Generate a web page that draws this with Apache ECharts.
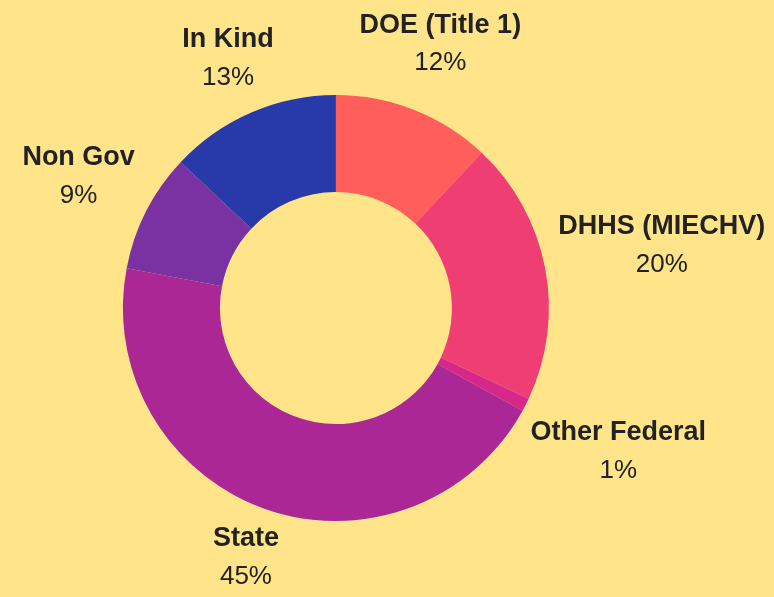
<!DOCTYPE html>
<html>
<head>
<meta charset="utf-8">
<script src="https://cdn.jsdelivr.net/npm/echarts@6/dist/echarts.min.js"></script>
<style>
  html, body { margin: 0; padding: 0; background: #FFE48A; }
  #main { width: 774px; height: 597px; }
</style>
</head>
<body>
<div id="main"></div>
<script>
// funding sources, percent of total
var names = ['DOE (Title 1)', 'DHHS (MIECHV)', 'Other Federal', 'State', 'Non Gov', 'In Kind'];
var values = [12, 20, 1, 45, 9, 13];
var colors = ['#FF5E5B', '#EE3E74', '#D6288A', '#AB2795', '#7A32A2', '#283AA9'];

var total = values.reduce(function (a, b) { return a + b; }, 0);
var chart = echarts.init(document.getElementById('main'));

var centerPct = [0.434, 0.516];
var labelGap = 224; // label box sits on the ray through the slice middle, this far out

var data = names.map(function (n, i) {
  return { name: n, value: values[i], itemStyle: { color: colors[i] } };
});

chart.setOption({
  backgroundColor: '#FFE48A',
  animation: false,
  series: [{
    type: 'pie',
    center: [centerPct[0] * 100 + '%', centerPct[1] * 100 + '%'],
    radius: [116, 213],
    startAngle: 90,
    clockwise: true,
    avoidLabelOverlap: false,
    data: data,
    itemStyle: { borderWidth: 0 },
    labelLine: { show: false },
    label: {
      show: true,
      position: 'outside',
      overflow: 'none',
      formatter: function (p) {
        return '{n|' + p.name + '}\n{p|' + p.value + '%}';
      },
      rich: {
        n: { fontFamily: 'Liberation Sans', fontWeight: 'bold', fontSize: 27, color: '#222', lineHeight: 38, align: 'center' },
        p: { fontFamily: 'Liberation Sans', fontSize: 26, color: '#222', lineHeight: 38, align: 'center' }
      }
    },
    labelLayout: function (params) {
      var i = params.dataIndex;
      var before = 0;
      for (var k = 0; k < i; k++) before += values[k];
      var t = (before + values[i] / 2) / total * Math.PI * 2;
      var cx = chart.getWidth() * centerPct[0];
      var cy = chart.getHeight() * centerPct[1];
      var s = Math.sin(t), c = Math.cos(t);
      var w = params.labelRect.width, h = params.labelRect.height;
      var d = labelGap + Math.abs(s) * w / 2 + Math.abs(c) * h / 2;
      return {
        x: cx + d * s,
        y: cy - d * c,
        align: 'center',
        verticalAlign: 'middle'
      };
    }
  }]
});
</script>
</body>
</html>
